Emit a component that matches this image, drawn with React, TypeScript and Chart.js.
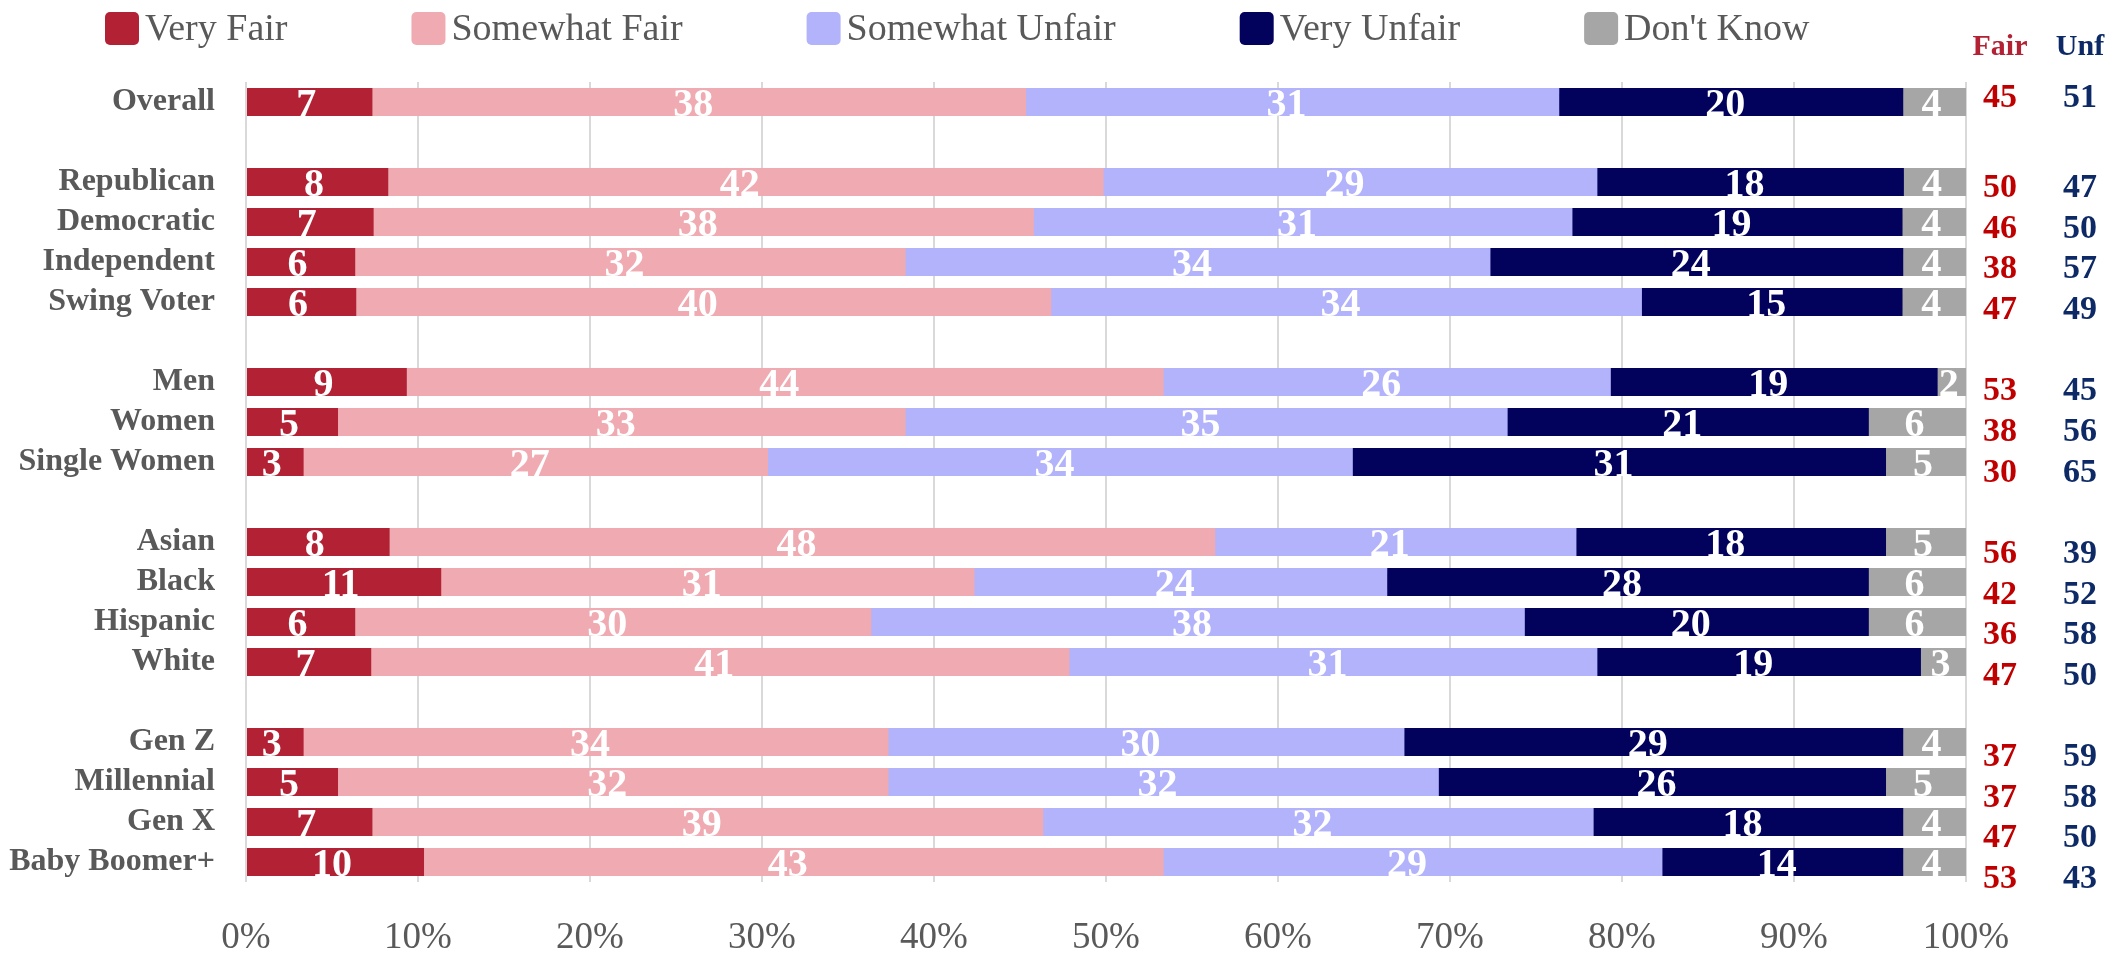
import React, { useEffect, useRef } from 'react';
import { Chart, registerables } from 'chart.js';

Chart.register(...registerables);

const categories = [
  'Overall', '',
  'Republican', 'Democratic', 'Independent', 'Swing Voter', '',
  'Men', 'Women', 'Single Women', '',
  'Asian', 'Black', 'Hispanic', 'White', '',
  'Gen Z', 'Millennial', 'Gen X', 'Baby Boomer+',
];

const veryFair = [7, null, 8, 7, 6, 6, null, 9, 5, 3, null, 8, 11, 6, 7, null, 3, 5, 7, 10];
const somewhatFair = [38, null, 42, 38, 32, 40, null, 44, 33, 27, null, 48, 31, 30, 41, null, 34, 32, 39, 43];
const somewhatUnfair = [31, null, 29, 31, 34, 34, null, 26, 35, 34, null, 21, 24, 38, 31, null, 30, 32, 32, 29];
const veryUnfair = [20, null, 18, 19, 24, 15, null, 19, 21, 31, null, 18, 28, 20, 19, null, 29, 26, 18, 14];
const dontKnow = [4, null, 4, 4, 4, 4, null, 2, 6, 5, null, 5, 6, 6, 3, null, 4, 5, 4, 4];

const fairTotals = [45, null, 50, 46, 38, 47, null, 53, 38, 30, null, 56, 42, 36, 47, null, 37, 37, 47, 53];
const unfairTotals = [51, null, 47, 50, 57, 49, null, 45, 56, 65, null, 39, 52, 58, 50, null, 59, 58, 50, 43];

const seriesNames = ['Very Fair', 'Somewhat Fair', 'Somewhat Unfair', 'Very Unfair', "Don't Know"];
const seriesColors = ['#B22234', '#EFABB1', '#B3B3FB', '#02025C', '#A6A6A6'];
const series = [veryFair, somewhatFair, somewhatUnfair, veryUnfair, dontKnow];

const tickLabels = ['0%', '10%', '20%', '30%', '40%', '50%', '60%', '70%', '80%', '90%', '100%'];

const FONT = "'Liberation Serif', 'DejaVu Serif', serif";
const GREY_TEXT = '#595959';

function rowShares(i: number): number[] | null {
  const vals = series.map((s) => s[i]);
  if (vals.some((v) => v == null)) return null;
  const sum = (vals as number[]).reduce((a, b) => a + b, 0);
  return (vals as number[]).map((v) => (v / sum) * 100);
}

const OVERLAP = 0.35;

function buildDatasets() {
  return series.map((_, k) => ({
    label: seriesNames[k],
    backgroundColor: seriesColors[k],
    borderWidth: 0,
    borderSkipped: false as const,
    borderRadius: k === 0 ? 0 : { topLeft: 6, bottomLeft: 6, topRight: 0, bottomRight: 0 },
    data: categories.map((_, i) => {
      const sh = rowShares(i);
      if (!sh) return null;
      let start = 0;
      for (let j = 0; j < k; j++) start += sh[j];
      const end = start + sh[k];
      return [start, k < 4 ? Math.min(end + OVERLAP, 100) : end];
    }),
  }));
}

const legendPlugin = {
  id: 'customLegend',
  afterDraw(chart: any) {
    const ctx = chart.ctx;
    ctx.save();
    ctx.font = `38px ${FONT}`;
    ctx.textBaseline = 'alphabetic';
    ctx.textAlign = 'left';
    let x = 105;
    seriesNames.forEach((name, k) => {
      ctx.fillStyle = seriesColors[k];
      ctx.beginPath();
      (ctx as any).roundRect(x, 12, 34, 33, 5);
      ctx.fill();
      ctx.fillStyle = GREY_TEXT;
      ctx.fillText(name, x + 40, 40);
      x += 40 + ctx.measureText(name).width + 124;
    });
    ctx.restore();
  },
};

const valueLabelPlugin = {
  id: 'valueLabels',
  afterDatasetsDraw(chart: any) {
    const ctx = chart.ctx;
    const xs = chart.scales.x;
    const ys = chart.scales.y;
    ctx.save();
    ctx.font = `bold 40px ${FONT}`;
    ctx.fillStyle = '#FFFFFF';
    ctx.textAlign = 'center';
    ctx.textBaseline = 'alphabetic';
    categories.forEach((_, i) => {
      const sh = rowShares(i);
      if (!sh) return;
      const cy = ys.getPixelForValue(i);
      let cum = 0;
      sh.forEach((s, k) => {
        const a = xs.getPixelForValue(cum);
        cum += s;
        const b = xs.getPixelForValue(cum);
        ctx.fillText(String(series[k][i]), (a + b) / 2, cy + 14);
      });
    });
    ctx.restore();
  },
};

const totalsPlugin = {
  id: 'totals',
  afterDraw(chart: any) {
    const ctx = chart.ctx;
    const ys = chart.scales.y;
    const right = chart.chartArea.right;
    const fairX = right + 34;
    const unfX = right + 114;
    ctx.save();
    ctx.textAlign = 'center';
    ctx.textBaseline = 'alphabetic';
    ctx.font = `bold 30px ${FONT}`;
    ctx.fillStyle = '#B22234';
    ctx.fillText('Fair', fairX, 55);
    ctx.fillStyle = '#0D2A66';
    ctx.fillText('Unf', unfX, 55);
    ctx.font = `bold 34px ${FONT}`;
    categories.forEach((_, i) => {
      if (fairTotals[i] == null) return;
      const offset = i === 0 ? -7 : 1.7 + 0.65 * i;
      const cy = ys.getPixelForValue(i) + offset;
      ctx.fillStyle = '#C00000';
      ctx.fillText(String(fairTotals[i]), fairX, cy + 12);
      ctx.fillStyle = '#0D2A66';
      ctx.fillText(String(unfairTotals[i]), unfX, cy + 12);
    });
    ctx.restore();
  },
};

export default function App() {
  const canvasRef = useRef<HTMLCanvasElement | null>(null);

  useEffect(() => {
    document.body.style.margin = '0';
    const canvas = canvasRef.current;
    if (!canvas) return;
    const chart = new Chart(canvas, {
      type: 'bar',
      data: {
        labels: categories,
        datasets: buildDatasets() as any,
      },
      options: {
        indexAxis: 'y',
        animation: false,
        responsive: true,
        maintainAspectRatio: false,
        layout: { padding: { top: 82, right: 157, left: 0, bottom: 0 } },
        datasets: {
          bar: { grouped: false, barPercentage: 0.7, categoryPercentage: 1.0 },
        } as any,
        plugins: {
          legend: { display: false },
          tooltip: { enabled: false },
        },
        scales: {
          x: {
            type: 'linear',
            min: 0,
            max: 100,
            ticks: {
              stepSize: 10,
              callback: (v: any) => tickLabels[Math.round(Number(v) / 10)],
              font: { family: FONT, size: 37 },
              color: GREY_TEXT,
              padding: 34,
            },
            grid: { color: '#D9D9D9', lineWidth: 2, drawTicks: false },
            border: { display: false },
            afterFit: (s: any) => {
              s.height = 73;
            },
          },
          y: {
            type: 'category',
            ticks: {
              font: { family: FONT, size: 32, weight: 'bold' },
              color: GREY_TEXT,
              padding: 31,
              autoSkip: false,
            },
            grid: { display: false, drawTicks: false },
            border: { display: false },
            afterFit: (s: any) => {
              s.width = 246;
            },
          },
        },
      },
      plugins: [legendPlugin, valueLabelPlugin, totalsPlugin],
    });
    return () => chart.destroy();
  }, []);

  return (
    <div style={{ width: 2123, height: 955, position: 'relative' }}>
      <canvas ref={canvasRef} />
    </div>
  );
}
